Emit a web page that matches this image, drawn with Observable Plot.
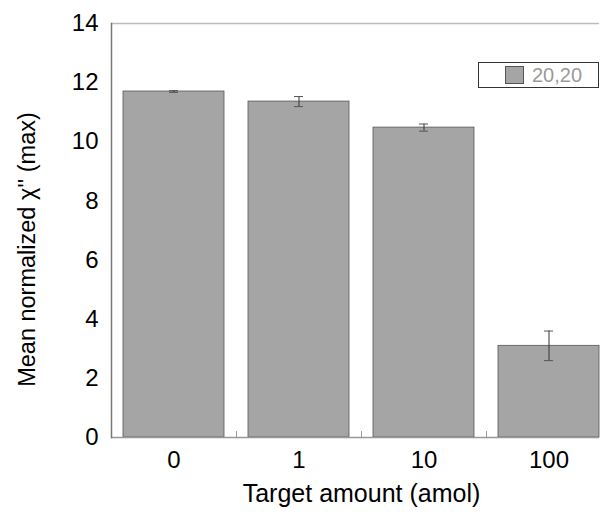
<!DOCTYPE html>
<html>
<head>
<meta charset="utf-8">
<script src="https://cdn.jsdelivr.net/npm/d3@7"></script>
<script src="https://cdn.jsdelivr.net/npm/@observablehq/plot@0.6"></script>
<style>
  html, body { margin: 0; padding: 0; background: #fff; }
  #wrap { position: relative; width: 601px; height: 514px; font-family: "Liberation Sans", Arial, sans-serif; }
  #legend { position: absolute; left: 478px; top: 62px; width: 119px; height: 24px; border: 1.5px solid #333; background: #fff; }
  #legend .sw { position: absolute; left: 26px; top: 3px; width: 17px; height: 16px; background: #a5a5a5; border: 1px solid #555; }
  #legend .lb { position: absolute; left: 53px; top: 2px; font-size: 20px; color: #9a9a9a; line-height: 20px; }
</style>
</head>
<body>
<div id="wrap">
  <div id="chart"></div>
  <div id="legend"><div class="sw"></div><div class="lb">20,20</div></div>
</div>
<script>
const categories = ["0", "1", "10", "100"];
const means = [11.70, 11.36, 10.48, 3.10];
const errors = [0.03, 0.17, 0.12, 0.50];
const yTicks = [0, 2, 4, 6, 8, 10, 12, 14];
const xLabel = "Target amount (amol)";
const yLabel = "Mean normalized \u03C7'' (max)";

const data = categories.map((c, i) => ({cat: c, mean: means[i], lo: means[i] - errors[i], hi: means[i] + errors[i]}));

const chart = Plot.plot({
  width: 601,
  height: 514,
  marginLeft: 111,
  marginRight: 2,
  marginTop: 23,
  marginBottom: 77,
  style: {fontFamily: "'Liberation Sans', Arial, sans-serif", background: "#fff", color: "#000"},
  x: {domain: categories, range: [123, 599], paddingInner: 0.192, paddingOuter: 0},
  y: {domain: [0, 14]},
  marks: [
    Plot.barY(data, {x: "cat", y: "mean", fill: "#a5a5a5", stroke: "#555", strokeWidth: 0.8}),
    Plot.ruleX(data, {x: "cat", y1: "lo", y2: "hi", stroke: "#333", strokeWidth: 1}),
    Plot.tickY(data, {x: "cat", y: "lo", stroke: "#555", insetLeft: 46, insetRight: 46}),
    Plot.tickY(data, {x: "cat", y: "hi", stroke: "#555", insetLeft: 46, insetRight: 46}),
    Plot.ruleY([0], {stroke: "#999", strokeWidth: 1.5}),
    Plot.ruleY([14], {stroke: "#bbb", strokeWidth: 1.5}),
    Plot.frame({anchor: "left", stroke: "#777", strokeWidth: 1.5}),
    Plot.ruleX(categories.slice(1), {x: d => d, y1: 0, y2: 0.2, dx: -62.5, stroke: "#999"}),
    Plot.axisY({ticks: yTicks, tickSize: 0, tickPadding: 13, fontSize: 24, label: null}),
    Plot.axisX({tickSize: 0, tickPadding: 13, fontSize: 24, label: null}),
    Plot.text([xLabel], {frameAnchor: "bottom", textAnchor: "middle", lineAnchor: "middle", dy: 56, dx: 6, fontSize: 25, fill: "#000"}),
    Plot.text([yLabel], {frameAnchor: "left", textAnchor: "middle", lineAnchor: "middle", rotate: -90, dx: -84, dy: 19, fontSize: 23.5, fill: "#000"})
  ]
});
document.getElementById("chart").appendChild(chart);
</script>
</body>
</html>
